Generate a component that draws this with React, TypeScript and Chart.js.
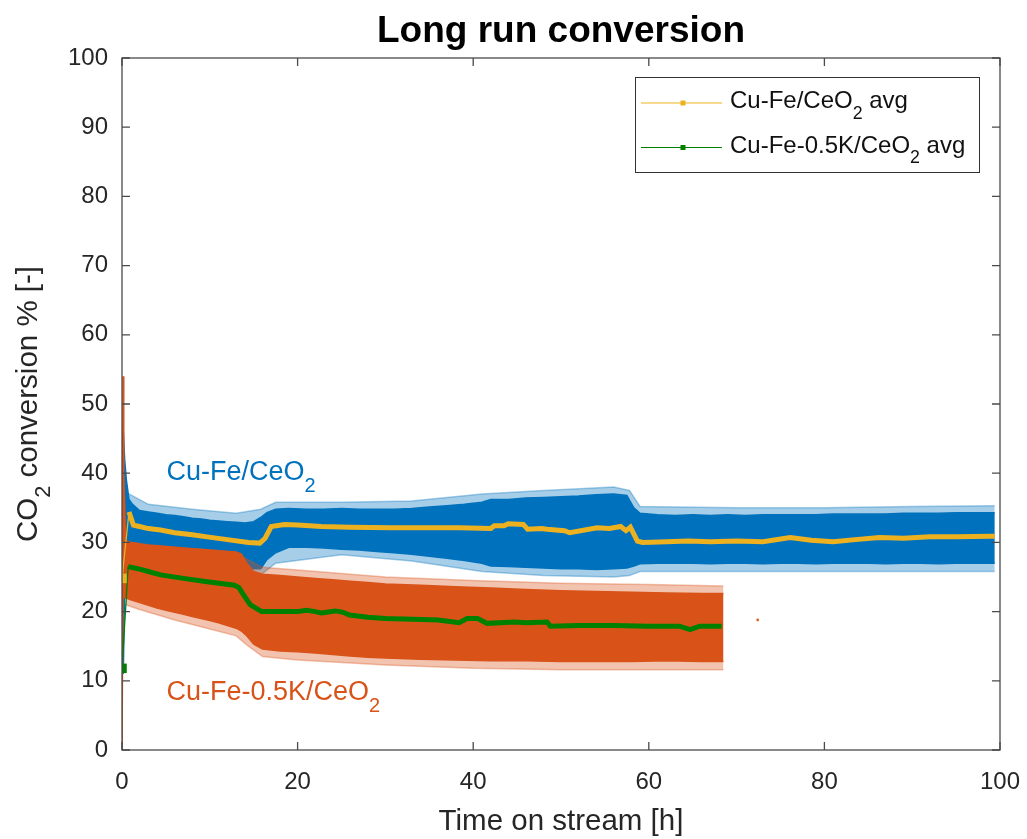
import { useEffect, useRef } from 'react';
import { Chart, registerables } from 'chart.js';

Chart.register(...registerables);

// ---------- data ----------
const xTickValues = [0, 20, 40, 60, 80, 100];
const yTickValues = [0, 10, 20, 30, 40, 50, 60, 70, 80, 90, 100];

// Cu-Fe/CeO2 raw cloud: dense core, upper / lower envelope (h, %)
const blueTime = [0, 0.15, 0.3, 0.5, 0.8, 1.2, 2, 3, 4, 5, 6, 7, 8, 9, 10, 11, 12, 13, 14, 15, 15.8, 16.5, 17.5, 19, 21, 23, 25, 27, 29, 31, 33, 35, 37, 39, 41, 42, 44, 46, 48, 50, 52, 54, 56, 57.5, 58.3, 59, 61, 63, 65, 67, 69, 71, 73, 75, 77, 79, 81, 83, 85, 87, 89, 91, 93, 95, 97, 99.4];
const blueUpper = [38, 46, 42, 39, 36.2, 35.5, 34.6, 34.4, 34.2, 34.0, 33.9, 33.7, 33.5, 33.4, 33.2, 33.1, 33.0, 32.9, 32.8, 33.0, 33.6, 34.3, 34.8, 34.9, 34.8, 34.8, 34.9, 34.8, 34.8, 34.8, 34.9, 35.1, 35.3, 35.5, 35.8, 36.2, 36.2, 36.4, 36.5, 36.6, 36.7, 36.9, 37.0, 36.8, 35.0, 34.2, 34.0, 33.9, 34.0, 33.9, 34.0, 33.9, 34.0, 34.0, 34.0, 34.0, 34.1, 34.1, 34.1, 34.1, 34.2, 34.2, 34.2, 34.3, 34.3, 34.3];
const blueLower = [24, 11, 24, 27, 28, 28, 28, 28, 28, 28, 28, 28, 28, 28, 28, 28, 28, 27.5, 26.5, 26.2, 26.2, 27.5, 28.5, 29.3, 29.3, 29.2, 29.0, 28.9, 28.7, 28.5, 28.3, 28.0, 27.7, 27.4, 27.0, 26.6, 26.5, 26.4, 26.3, 26.2, 26.2, 26.1, 26.2, 26.3, 26.6, 26.9, 27.0, 27.0, 27.0, 26.9, 27.0, 27.0, 26.9, 27.0, 27.0, 26.9, 27.0, 27.0, 27.0, 26.9, 27.0, 27.0, 26.9, 27.0, 27.0, 27.0];
// Cu-Fe/CeO2 sparse outer dots: extent (h, %)
const blueFringeTime = [0.8, 3, 8, 13, 15.8, 17.5, 25, 33, 41, 48, 56, 57.8, 59, 70, 80, 90, 99.4];
const blueFringeUpper = [37, 35.5, 34.8, 34.2, 34.8, 35.8, 35.8, 36.0, 37.0, 37.5, 38.0, 37.5, 35.2, 35.0, 35.0, 35.2, 35.3];
const blueFringeLower = [27, 27, 27, 26, 25.3, 27, 28.2, 27.3, 25.8, 25.2, 25.0, 25.2, 25.8, 25.8, 25.8, 25.8, 25.8];

// Cu-Fe-0.5K/CeO2 raw cloud: dense core, upper / lower envelope (h, %)
const orangeTime = [0, 0.08, 0.12, 0.2, 0.4, 1, 2, 3, 4, 5, 6, 7, 8, 9, 10, 11, 12, 13, 13.6, 14.2, 15, 16, 18, 20, 22, 24, 26, 28, 30, 34, 38, 42, 46, 50, 54, 58, 62, 66, 68.5];
const orangeUpper = [5, 5, 54, 40, 30.2, 30.0, 29.8, 29.6, 29.5, 29.4, 29.3, 29.2, 29.1, 29.0, 28.9, 28.8, 28.7, 28.6, 28.3, 27.0, 25.8, 25.4, 25.2, 25.0, 24.8, 24.6, 24.4, 24.2, 24.0, 23.8, 23.6, 23.4, 23.2, 23.0, 22.9, 22.8, 22.7, 22.6, 22.6];
const orangeLower = [0, 0, 25, 22, 22, 21.7, 21.3, 20.9, 20.5, 20.2, 19.9, 19.6, 19.3, 19.0, 18.7, 18.4, 18.0, 17.6, 17.2, 16.5, 15.3, 14.6, 14.3, 14.2, 14.0, 13.8, 13.6, 13.4, 13.3, 13.1, 13.0, 12.9, 12.9, 12.8, 12.8, 12.8, 12.9, 12.8, 12.8];
// Cu-Fe-0.5K/CeO2 sparse outer dots: extent (h, %)
const orangeFringeTime = [0.4, 2, 6, 10, 13, 14.2, 16, 20, 30, 40, 50, 60, 68.5];
const orangeFringeUpper = [30.2, 29.8, 29.3, 28.9, 28.6, 27.6, 26.4, 26.0, 25.0, 24.5, 24.1, 23.9, 23.7];
const orangeFringeLower = [21.0, 20.3, 18.8, 17.5, 16.5, 15.2, 13.5, 13.0, 12.3, 11.8, 11.6, 11.6, 11.6];
const orangeStrayTime = [72.4];
const orangeStrayValue = [18.8];

// averages
const yellowTime = [0, 0.8, 1.3, 2, 3, 4.4, 6, 8, 9.7, 12, 14.4, 15.7, 16.3, 17, 18.5, 20, 22.7, 26, 30.6, 34, 38.4, 42, 42.4, 43.5, 44, 45.7, 46.2, 47.8, 48.4, 50.4, 51, 54.1, 55.5, 56.8, 57.4, 57.9, 58.7, 59.3, 62, 64.5, 67, 70, 73, 76.1, 78.5, 81, 83.5, 86.3, 89, 92, 95, 98.9, 99.4];
const yellowAvg = [24.8, 34.4, 32.5, 32.3, 32.0, 31.8, 31.4, 31.1, 30.8, 30.4, 30.0, 29.9, 30.6, 32.3, 32.6, 32.5, 32.3, 32.2, 32.1, 32.1, 32.1, 32.0, 32.4, 32.4, 32.7, 32.6, 31.9, 32.0, 31.9, 31.7, 31.4, 32.1, 32.0, 32.3, 31.7, 32.2, 30.2, 30.0, 30.1, 30.2, 30.1, 30.2, 30.1, 30.7, 30.3, 30.1, 30.4, 30.7, 30.6, 30.8, 30.8, 30.9, 30.9];
const greenTime = [0, 0.7, 1.8, 3, 4.4, 7, 9.7, 12.8, 13.3, 13.6, 14.6, 15.9, 18, 20, 21, 22, 22.7, 24.3, 25.2, 25.9, 28, 30, 33.2, 36, 38.4, 39.3, 40.5, 41.6, 44.7, 46, 48.4, 48.8, 52, 56, 60, 63.5, 64.7, 65.8, 68.3];
const greenAvg = [11.8, 26.5, 26.2, 25.8, 25.3, 24.8, 24.3, 23.8, 23.5, 22.9, 21.0, 20.0, 20.0, 20.0, 20.2, 20.0, 19.8, 20.1, 19.9, 19.5, 19.2, 19.0, 18.9, 18.8, 18.4, 19.0, 19.0, 18.3, 18.5, 18.4, 18.5, 17.9, 18.0, 18.0, 17.9, 17.9, 17.4, 17.9, 17.9];

const titleText = 'Long run conversion';
const xLabelText = 'Time on stream [h]';
const blueLabelPos = [5.06, 39];
const orangeLabelPos = [5.06, 7.2];

// ---------- style ----------
const BLUE = '#0072BD';
const BLUE_FRINGE = 'rgba(0,114,189,0.35)';
const ORANGE = '#D95319';
const ORANGE_FRINGE = 'rgba(217,83,25,0.35)';
const YELLOW = '#EDB120';
const GREEN = '#008000';
const AXIS = '#262626';
const FAMILY = '"Liberation Sans", Arial, Helvetica, sans-serif';

const pts = (xs: number[], ys: number[]) => xs.map((x, i) => ({ x, y: ys[i] }));

type Part = { t: string; sub?: boolean };

function drawParts(
  ctx: CanvasRenderingContext2D,
  parts: Part[],
  x: number,
  y: number,
  size: number,
  align: 'left' | 'center',
  weight = 'normal',
  subScale = 0.74,
  subShift = 0.45,
) {
  ctx.textAlign = 'left';
  ctx.textBaseline = 'alphabetic';
  const widths = parts.map((p) => {
    ctx.font = `${weight} ${p.sub ? size * subScale : size}px ${FAMILY}`;
    return ctx.measureText(p.t).width;
  });
  const total = widths.reduce((a, b) => a + b, 0);
  let cx = align === 'center' ? x - total / 2 : x;
  parts.forEach((p, i) => {
    ctx.font = `${weight} ${p.sub ? size * subScale : size}px ${FAMILY}`;
    ctx.fillText(p.t, cx, p.sub ? y + size * subShift : y);
    cx += widths[i];
  });
}

const decorPlugin = {
  id: 'decor',
  afterDraw(chart: any) {
    const { ctx, chartArea: a, scales } = chart;
    const xs = scales.x;
    const ys = scales.y;
    ctx.save();

    // axes box + inward ticks
    ctx.strokeStyle = '#4a4a4a';
    ctx.lineWidth = 1.3;
    ctx.strokeRect(a.left, a.top, a.right - a.left, a.bottom - a.top);
    const tl = 8;
    ctx.beginPath();
    xTickValues.forEach((v) => {
      const px = xs.getPixelForValue(v);
      ctx.moveTo(px, a.bottom);
      ctx.lineTo(px, a.bottom - tl);
      ctx.moveTo(px, a.top);
      ctx.lineTo(px, a.top + tl);
    });
    yTickValues.forEach((v) => {
      const py = ys.getPixelForValue(v);
      ctx.moveTo(a.left, py);
      ctx.lineTo(a.left + tl, py);
      ctx.moveTo(a.right, py);
      ctx.lineTo(a.right - tl, py);
    });
    ctx.stroke();

    const cxMid = (a.left + a.right) / 2;
    const cyMid = (a.top + a.bottom) / 2;

    // title
    ctx.fillStyle = '#000';
    ctx.font = `bold 37px ${FAMILY}`;
    ctx.textAlign = 'center';
    ctx.textBaseline = 'alphabetic';
    ctx.fillText(titleText, cxMid, 42);

    // x label
    ctx.fillStyle = AXIS;
    ctx.font = `29.5px ${FAMILY}`;
    ctx.fillText(xLabelText, cxMid, 830);

    // y label (rotated)
    ctx.save();
    ctx.translate(37, cyMid);
    ctx.rotate(-Math.PI / 2);
    drawParts(ctx, [{ t: 'CO' }, { t: '2', sub: true }, { t: ' conversion % [-]' }], 0, 0, 29.5, 'center');
    ctx.restore();

    // in-plot annotations
    ctx.fillStyle = BLUE;
    drawParts(
      ctx,
      [{ t: 'Cu-Fe/CeO' }, { t: '2', sub: true }],
      xs.getPixelForValue(blueLabelPos[0]),
      ys.getPixelForValue(blueLabelPos[1]),
      27,
      'left',
    );
    ctx.fillStyle = ORANGE;
    drawParts(
      ctx,
      [{ t: 'Cu-Fe-0.5K/CeO' }, { t: '2', sub: true }],
      xs.getPixelForValue(orangeLabelPos[0]),
      ys.getPixelForValue(orangeLabelPos[1]),
      27,
      'left',
    );

    // legend
    const lx = 635, ly = 77, lw = 344, lh = 95;
    ctx.fillStyle = '#fff';
    ctx.fillRect(lx, ly, lw, lh);
    ctx.strokeStyle = '#333';
    ctx.lineWidth = 1;
    ctx.strokeRect(lx + 0.5, ly + 0.5, lw, lh);
    const rows = [
      { color: YELLOW, y: 103, parts: [{ t: 'Cu-Fe/CeO' }, { t: '2', sub: true }, { t: ' avg' }] },
      { color: GREEN, y: 147.5, parts: [{ t: 'Cu-Fe-0.5K/CeO' }, { t: '2', sub: true }, { t: ' avg' }] },
    ];
    rows.forEach((r) => {
      ctx.strokeStyle = r.color;
      ctx.lineWidth = 1.2;
      ctx.beginPath();
      ctx.moveTo(641, r.y);
      ctx.lineTo(722, r.y);
      ctx.stroke();
      ctx.fillStyle = r.color;
      ctx.fillRect(683 - 2.5, r.y - 2.5, 5, 5);
      ctx.fillStyle = '#111';
      drawParts(ctx, r.parts, 730, r.y + 5, 24, 'left');
    });

    ctx.restore();
  },
};

function band(label: string, xs: number[], up: number[], lo: number[], color: string, order: number) {
  return [
    {
      label: label + ' upper',
      data: pts(xs, up),
      borderColor: color,
      borderWidth: 1.5,
      backgroundColor: color,
      pointRadius: 0,
      fill: '+1',
      order,
    },
    {
      label: label + ' lower',
      data: pts(xs, lo),
      borderColor: color,
      borderWidth: 1.5,
      pointRadius: 0,
      fill: false,
      order,
    },
  ];
}

export default function App() {
  const ref = useRef<HTMLCanvasElement | null>(null);

  useEffect(() => {
    if (!ref.current) return;
    const thin = (ctx: any) => (ctx.p0DataIndex === 0 ? 1.3 : 5);
    const chart = new Chart(ref.current, {
      type: 'line',
      data: {
        datasets: [
          {
            label: 'Cu-Fe/CeO2 avg',
            data: pts(yellowTime, yellowAvg),
            borderColor: YELLOW,
            backgroundColor: YELLOW,
            borderWidth: 5,
            segment: { borderWidth: thin },
            pointStyle: 'rect',
            pointRadius: yellowTime.map((_, i) => (i === 0 ? 3.2 : 0)),
            fill: false,
            order: 0,
          },
          {
            label: 'Cu-Fe-0.5K/CeO2 avg',
            data: pts(greenTime, greenAvg),
            borderColor: GREEN,
            backgroundColor: GREEN,
            borderWidth: 5,
            segment: { borderWidth: thin },
            pointStyle: 'rect',
            pointRadius: greenTime.map((_, i) => (i === 0 ? 3.2 : 0)),
            fill: false,
            order: 1,
          },
          {
            label: 'Cu-Fe-0.5K/CeO2 stray',
            data: pts(orangeStrayTime, orangeStrayValue),
            showLine: false,
            pointRadius: 1.3,
            pointBackgroundColor: ORANGE,
            pointBorderWidth: 0,
            order: 2,
          },
          ...band('Cu-Fe-0.5K/CeO2', orangeTime, orangeUpper, orangeLower, ORANGE, 3),
          ...band('Cu-Fe-0.5K/CeO2 fringe', orangeFringeTime, orangeFringeUpper, orangeFringeLower, ORANGE_FRINGE, 4),
          ...band('Cu-Fe/CeO2', blueTime, blueUpper, blueLower, BLUE, 5),
          ...band('Cu-Fe/CeO2 fringe', blueFringeTime, blueFringeUpper, blueFringeLower, BLUE_FRINGE, 6),
        ],
      },
      options: {
        animation: false,
        responsive: false,
        devicePixelRatio: 1,
        events: [],
        layout: { padding: { top: 58, right: 27, bottom: 0, left: 0 } },
        plugins: {
          legend: { display: false },
          title: { display: false },
          tooltip: { enabled: false },
        },
        scales: {
          x: {
            type: 'linear',
            min: 0,
            max: 100,
            afterFit: (s: any) => {
              s.height = 89;
              s.paddingLeft = 0;
              s.paddingRight = 0;
            },
            afterBuildTicks: (s: any) => {
              s.ticks = xTickValues.map((v) => ({ value: v }));
            },
            grid: { display: false },
            border: { display: false },
            ticks: {
              color: AXIS,
              font: { family: FAMILY, size: 24 },
              padding: 10,
              maxRotation: 0,
              autoSkip: false,
            },
          },
          y: {
            type: 'linear',
            min: 0,
            max: 100,
            afterFit: (s: any) => {
              s.width = 122;
              s.paddingTop = 0;
              s.paddingBottom = 0;
            },
            afterBuildTicks: (s: any) => {
              s.ticks = yTickValues.map((v) => ({ value: v }));
            },
            grid: { display: false },
            border: { display: false },
            ticks: {
              color: AXIS,
              font: { family: FAMILY, size: 24 },
              padding: 6,
              autoSkip: false,
            },
          },
        },
      },
      plugins: [decorPlugin],
    });
    return () => chart.destroy();
  }, []);

  return (
    <div style={{ position: 'absolute', left: 0, top: 0, width: 1027, height: 839, background: '#fff' }}>
      <canvas ref={ref} width={1027} height={839} style={{ width: 1027, height: 839, display: 'block' }} />
    </div>
  );
}
